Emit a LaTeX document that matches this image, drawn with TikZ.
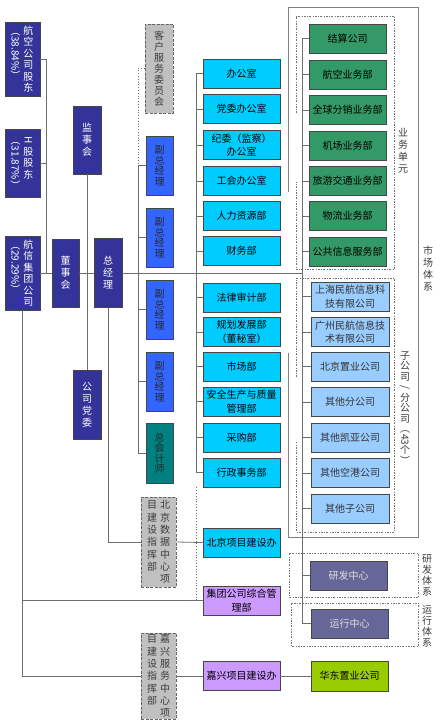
\documentclass[tikz,border=0pt]{standalone}
\usepackage{graphicx}
\usepackage{fontspec}
\setmainfont{Noto Sans CJK SC}

\definecolor{navy}{RGB}{51,51,153}
\definecolor{vpblue}{RGB}{51,102,255}
\definecolor{acctteal}{RGB}{0,128,128}
\definecolor{deptcyan}{RGB}{0,204,255}
\definecolor{bizgreen}{RGB}{51,153,102}
\definecolor{subblue}{RGB}{153,204,255}
\definecolor{rdslate}{RGB}{102,102,153}
\definecolor{mgmtpurple}{RGB}{204,153,255}
\definecolor{hdlime}{RGB}{153,204,0}
\definecolor{cmdgray}{RGB}{192,192,192}
\definecolor{boxedge}{RGB}{70,70,70}
\definecolor{linegray}{RGB}{110,110,110}
\definecolor{labelgray}{RGB}{60,60,60}

% one character per line, for vertical text
\makeatletter
\newcommand\vcol[2][11.5pt]{\vtop{\baselineskip=#1\relax\lineskiplimit=0pt\lineskip=1pt\vcol@a#2\@nil}}
\def\vcol@a#1{\ifx\@nil#1\else\hbox to 12pt{\hss#1\hss}\expandafter\vcol@a\fi}
\makeatother
\newcommand\pct[1]{\vtop{\hbox{\raisebox{8pt}{\rotatebox{-90}{#1}}}}}

\begin{document}
\begin{tikzpicture}[x=1pt, y=1pt,
  every node/.append style={inner sep=0pt, font=\fontsize{10}{13.5}\selectfont},
  box/.style={draw=boxedge, line width=0.8pt, align=center},
  navybox/.style={box, fill=navy, text=white, minimum width=28pt, minimum height=68pt},
  vpbox/.style={box, fill=vpblue, text=black!85, minimum width=27pt, minimum height=59pt},
  acctbox/.style={box, fill=acctteal, text=black!85, minimum width=27pt, minimum height=60pt},
  cmdbox/.style={box, fill=cmdgray, text=labelgray, draw=black!60, dash pattern=on 3pt off 1.5pt, minimum width=35pt},
  deptbox/.style={box, fill=deptcyan, text=black, minimum width=77pt, minimum height=29pt},
  mgmtbox/.style={box, fill=mgmtpurple, text=black, minimum width=77pt, minimum height=29pt},
  bizbox/.style={box, fill=bizgreen, text=black, minimum width=77pt, minimum height=29pt},
  subbox/.style={box, fill=subblue, text=black!80, minimum width=78pt, minimum height=29pt},
  rdbox/.style={box, fill=rdslate, text=white!88!black, minimum width=77pt, minimum height=29pt},
  hdbox/.style={box, fill=hdlime, text=black, minimum width=77pt, minimum height=30pt},
  lbl/.style={text=labelgray},
  conn/.style={draw=linegray, line width=0.8pt},
  grpline/.style={draw=black!55, line width=0.7pt, dash pattern=on 2pt off 1.5pt on 0.5pt off 1.5pt},
  mktline/.style={draw=black!50, line width=0.9pt}]
\useasboundingbox (0,0) rectangle (440,-725);
\fill[white] (0,0) rectangle (440,-725);

% shareholders, board
\node[navybox, minimum width=35pt, minimum height=74pt] (sh1) at (22.5,-59) {\pct{（38.84\%）}\hspace{2pt}\vcol{航空公司股东}};
\node[navybox, minimum width=35pt, minimum height=68pt] (sh2) at (22.5,-163) {\pct{（31.87\%）}\hspace{2pt}\vcol{{\rotatebox[origin=c]{-90}{H}}股股东}};
\node[navybox, minimum width=35pt, minimum height=74pt] (sh3) at (22.5,-273) {\pct{（29.29\%）}\hspace{2pt}\vcol{航信集团公司}};
\node[navybox, minimum width=27pt] (dsh) at (65.5,-273) {\vcol[12pt]{董事会}};
\node[navybox] (jsh) at (87,-140) {\vcol[12pt]{监事会}};
\node[navybox, minimum height=69pt] (dw) at (87,-404.5) {\vcol[12pt]{公司党委}};
\node[navybox, minimum height=69pt] (zjl) at (108,-273) {\vcol[12pt]{总经理}};

% vice presidents
\node[cmdbox, minimum width=28pt, minimum height=89pt] (kf) at (159,-68.5) {\vcol[11pt]{客户服务委员会}};
\node[vpbox] (vg1) at (159.5,-165.5) {\vcol[10.5pt]{副总经理}};
\node[vpbox] (vg2) at (159.5,-237.5) {\vcol[10.5pt]{副总经理}};
\node[vpbox] (vg3) at (159.5,-309.5) {\vcol[10.5pt]{副总经理}};
\node[vpbox] (vg4) at (159.5,-381.5) {\vcol[10.5pt]{副总经理}};
\node[acctbox] (zkj) at (159.5,-453) {\vcol[10.5pt]{总会计师}};
\node[cmdbox, minimum height=90pt] (bjzh) at (158.5,-542) {\vcol[12.3pt]{目建设指挥部}\hspace{1pt}\vcol[12.3pt]{北京数据中心项}};
\node[cmdbox, minimum height=86pt] (jxzh) at (158.5,-676) {\vcol[12.3pt]{目建设指挥部}\hspace{1pt}\vcol[12.3pt]{嘉兴服务中心项}};

% departments
\node[deptbox] (bgs) at (241.5,-73.5) {办公室};
\node[deptbox] (dwbgs) at (241.5,-109) {党委办公室};
\node[deptbox] (jw) at (241.5,-145) {纪委（监察）\\办公室};
\node[deptbox] (gh) at (241.5,-181) {工会办公室};
\node[deptbox] (rl) at (241.5,-216) {人力资源部};
\node[deptbox] (cw) at (241.5,-251) {财务部};
\node[deptbox] (fl) at (241.5,-297.5) {法律审计部};
\node[deptbox] (gf) at (241.5,-332) {规划发展部\\（董秘室）};
\node[deptbox] (sc) at (241.5,-366.5) {市场部};
\node[deptbox] (aq) at (241.5,-401.5) {安全生产与质量\\管理部};
\node[deptbox] (cg) at (241.5,-437.5) {采购部};
\node[deptbox] (xz) at (241.5,-472.5) {行政事务部};
\node[deptbox] (bjxm) at (241.5,-542.5) {北京项目建设办};
\node[mgmtbox] (jtgl) at (241.5,-600.5) {集团公司综合管\\理部};
\node[mgmtbox] (jxxm) at (241.5,-676) {嘉兴项目建设办};

% business units, subsidiaries
\node[bizbox] (js) at (347.5,-38.5) {结算公司};
\node[bizbox] (hk) at (347.5,-74.5) {航空业务部};
\node[bizbox] (qq) at (347.5,-110) {全球分销业务部};
\node[bizbox] (jc) at (347.5,-145.5) {机场业务部};
\node[bizbox] (ly) at (347.5,-181) {旅游交通业务部};
\node[bizbox] (wl) at (347.5,-216) {物流业务部};
\node[bizbox] (gg) at (347.5,-251.5) {公共信息服务部};
\node[subbox] (shmh) at (350,-296.5) {上海民航信息科\\技有限公司};
\node[subbox] (gzmh) at (350,-332) {广州民航信息技\\术有限公司};
\node[subbox] (bjzy) at (350,-366.5) {北京置业公司};
\node[subbox] (qtf) at (350,-402) {其他分公司};
\node[subbox] (ky) at (350,-437.5) {其他凯亚公司};
\node[subbox] (kg) at (350,-473) {其他空港公司};
\node[subbox] (qtz) at (350,-508.5) {其他子公司};
\node[rdbox] (yf) at (348.5,-575.5) {研发中心};
\node[rdbox] (yx) at (349.5,-623.5) {运行中心};
\node[hdbox] (hd) at (349.5,-676) {华东置业公司};

% group frames
\draw[mktline] (288,-192) -- (288,-7) -- (418,-7) -- (418,-537) -- (288,-537) -- (288,-353);
\draw[grpline] (296,-113) -- (296,-16) -- (394,-16) -- (394,-269) -- (296,-269) -- (296,-182);
\draw[grpline] (296,-377) -- (296,-278) -- (394,-278) -- (394,-532) -- (296,-532) -- (296,-442);
\draw[grpline] (289,-553) rectangle (418,-597);
\draw[grpline] (291,-603) rectangle (418,-646);
\node[lbl] (lywdy) at (403,-151) {\vcol[12pt]{业务单元}};
\node[lbl] (lscx) at (428,-269) {\vcol[12pt]{市场体系}};
\node[lbl] (lzgs) at (405,-408) {\vcol[10.5pt]{子公司{\rotatebox[origin=c]{-90}{/}}分公司︵{\rotatebox[origin=c]{-90}{43}}个︶}};
\node[lbl] (lyf) at (427,-575) {\vcol[11pt]{研发体系}};
\node[lbl] (lyx) at (427,-626) {\vcol[11pt]{运行体系}};

% connectors
\coordinate (xA) at (46,0);
\coordinate (xV) at (138,0);
\coordinate (xC) at (196,0);
\coordinate (xR) at (302,0);
\draw[conn] (sh1.east) -- (sh1.east -| xA) -- (sh3.east -| xA);
\draw[conn] (sh2.east) -- (sh2.east -| xA);
\draw[conn] (sh3.east) -- (dsh.west);
\draw[conn] (dsh.east) -- (zjl.west);
\draw[conn] (jsh.south) -- (dw.north);
\draw[conn] (zjl.east) -- (zjl.east -| xR);
\draw[conn, dotted] (kf.west) -- (kf.west -| xV) -- (vg1.west -| xV);
\draw[conn] (vg1.west -| xV) -- (zkj.west -| xV);
\foreach \n in {vg1,vg2,vg3,vg4,zkj}
  \draw[conn] (\n.west) -- (\n.west -| xV);
\draw[conn] (bgs.west -| xC) -- (xz.west -| xC);
\foreach \n in {bgs,dwbgs,jw,gh,rl,cw,fl,gf,sc,aq,cg,xz}
  \draw[conn] (\n.west) -- (\n.west -| xC);
\draw[conn, dotted] (xz.south -| xC) -- (jtgl.west -| xC);
\draw[conn] (js.west -| xR) -- (yx.west -| xR);
\foreach \n in {js,hk,qq,jc,ly,wl,gg,shmh,gzmh,bjzy,qtf,ky,kg,qtz,yf,yx}
  \draw[conn] (\n.west) -- (\n.west -| xR);
\draw[conn] (zjl.south) |- (bjzh.west);
\draw[conn] (bjzh.east) -- (bjxm.west);
\draw[conn] (sh3.south) |- (jxzh.west);
\draw[conn] (sh3.south |- jtgl.west) -- (jtgl.west);
\draw[conn] (jxzh.east) -- (jxxm.west);
\draw[conn] (jxxm.east) -- (hd.west);
\end{tikzpicture}
\end{document}
